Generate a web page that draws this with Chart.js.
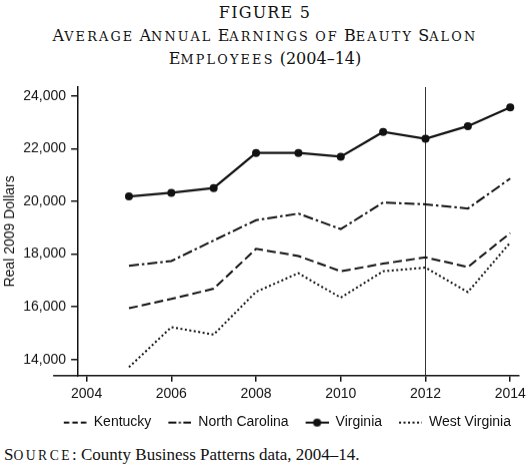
<!DOCTYPE html>
<html>
<head>
<meta charset="utf-8">
<script src="https://cdn.jsdelivr.net/npm/chart.js@4"></script>
<style>
body{margin:0;background:#fff;}
#wrap{position:relative;width:530px;height:466px;overflow:hidden;color:#111;}
#title{position:absolute;left:0;top:2px;width:530px;text-align:center;font-family:'DejaVu Serif',serif;font-size:16px;line-height:22.5px;white-space:nowrap;}
#title .l1{letter-spacing:1.2px;}
#title .sc{font-size:0.8em;text-transform:uppercase;letter-spacing:2.2px;}
#box{position:absolute;left:0;top:72px;width:530px;height:366.6px;}
#source{position:absolute;left:4px;top:445px;font-family:'Liberation Serif',serif;font-size:17px;line-height:20px;white-space:nowrap;}
#source .sc{font-size:0.8em;text-transform:uppercase;letter-spacing:2.5px;}
</style>
</head>
<body>
<div id="wrap">
<div id="title">
<div class="l1">FIGURE 5</div>
<div>A<span class="sc">verage</span> A<span class="sc">nnual</span> E<span class="sc">arnings</span> <span class="sc">of</span> B<span class="sc">eauty</span> S<span class="sc">alon</span></div>
<div>E<span class="sc">mployees</span> (2004–14)</div>
</div>
<div id="box"><canvas id="chart"></canvas></div>
<div id="source">S<span class="sc">ource</span>: County Business Patterns data, 2004–14.</div>
</div>
<script>
// 1. data
let years = [2005, 2006, 2007, 2008, 2009, 2010, 2011, 2012, 2013, 2014];
let kentucky = [15950, 16300, 16690, 18200, 17930, 17350, 17640, 17880, 17510, 18800];
let northCarolina = [17560, 17740, 18520, 19290, 19540, 18950, 19960, 19890, 19730, 20870];
let virginia = [20190, 20330, 20510, 21840, 21840, 21700, 22640, 22380, 22860, 23570];
let westVirginia = [13710, 15230, 14950, 16570, 17280, 16350, 17350, 17490, 16560, 18440];
let xTicks = [2004, 2006, 2008, 2010, 2012, 2014];
let yTicks = [14000, 16000, 18000, 20000, 22000, 24000];
let markYear = 2012;

let ink = '#111';
let sans = "'Liberation Sans', Arial, sans-serif";

let toPoints = function(vals){
  return vals.map((v, i) => ({x: years[i], y: v}));
};

// 2. little line samples for the legend (8px blank on the left = extra gap between items)
let makeSample = function(dash, dot){
  let c = document.createElement('canvas');
  c.width = 31; c.height = 10;
  let ctx = c.getContext('2d');
  ctx.strokeStyle = ink; ctx.lineWidth = 2;
  ctx.setLineDash(dash);
  ctx.beginPath(); ctx.moveTo(8, 5); ctx.lineTo(31, 5); ctx.stroke();
  if(dot){
    ctx.fillStyle = ink;
    ctx.beginPath(); ctx.arc(19.5, 5, 4, 0, Math.PI * 2); ctx.fill();
  }
  return c;
};
let samples = [makeSample([5.5, 3]), makeSample([8, 2.5, 2, 2.5]), makeSample([], true), makeSample([2, 2.5])];

// x axis line runs a bit left of the y axis
let axisExtend = {
  id: 'axisExtend',
  afterDraw: function(chart){
    let a = chart.chartArea;
    let ctx = chart.ctx;
    ctx.save();
    ctx.strokeStyle = ink; ctx.lineWidth = 1.5;
    ctx.beginPath(); ctx.moveTo(a.left - 25, a.bottom); ctx.lineTo(a.left, a.bottom); ctx.stroke();
    ctx.restore();
  }
};

// 3. chart
let chart = new Chart(document.getElementById('chart'), {
  type: 'line',
  data: {
    datasets: [
      {label: 'Kentucky', data: toPoints(kentucky), borderColor: ink, borderWidth: 2, borderDash: [9, 4], pointRadius: 0},
      {label: 'North Carolina', data: toPoints(northCarolina), borderColor: ink, borderWidth: 2, borderDash: [10, 3, 2.5, 3], pointRadius: 0},
      {label: 'Virginia', data: toPoints(virginia), borderColor: ink, backgroundColor: ink, borderWidth: 2.2, pointRadius: 4, pointBorderWidth: 0},
      {label: 'West Virginia', data: toPoints(westVirginia), borderColor: ink, borderWidth: 2, borderDash: [2, 2.5], pointRadius: 0},
      {label: 'mark', data: [{x: markYear, y: 13390}, {x: markYear, y: 24340}], borderColor: '#333', borderWidth: 1, pointRadius: 0}
    ]
  },
  options: {
    responsive: true,
    maintainAspectRatio: false,
    animation: false,
    layout: {padding: {top: 15, right: 10, left: 1.5, bottom: 0}},
    scales: {
      x: {
        type: 'linear', min: 2003.8, max: 2014.2,
        afterBuildTicks: function(s){ s.ticks = xTicks.map(v => ({value: v})); },
        grid: {display: true, drawOnChartArea: false, drawTicks: true, tickLength: 6, color: ink, lineWidth: 1.5},
        border: {display: true, color: ink, width: 1.5},
        ticks: {color: ink, font: {family: sans, size: 14}, padding: 4, maxRotation: 0, callback: v => String(v)}
      },
      y: {
        min: 13390, max: 24340,
        afterBuildTicks: function(s){ s.ticks = yTicks.map(v => ({value: v})); },
        grid: {display: true, drawOnChartArea: false, drawTicks: true, tickLength: 7, color: ink, lineWidth: 1.5},
        border: {display: true, color: ink, width: 1.5},
        ticks: {color: ink, font: {family: sans, size: 14}, padding: 5, callback: v => v.toLocaleString('en-US')},
        title: {display: true, text: 'Real 2009 Dollars', color: ink, font: {family: sans, size: 14}, padding: {top: 0, bottom: 0}}
      }
    },
    plugins: {
      tooltip: {enabled: false},
      legend: {
        position: 'bottom',
        align: 'end',
        labels: {
          usePointStyle: true, pointStyleWidth: 31, boxHeight: 10, padding: 9,
          color: ink, font: {family: sans, size: 14},
          filter: item => item.datasetIndex < 4,
          generateLabels: function(chart){
            let items = Chart.defaults.plugins.legend.labels.generateLabels(chart);
            items.forEach(it => { it.pointStyle = samples[it.datasetIndex]; });
            return items;
          }
        }
      }
    }
  },
  plugins: [axisExtend]
});
</script>
</body>
</html>
